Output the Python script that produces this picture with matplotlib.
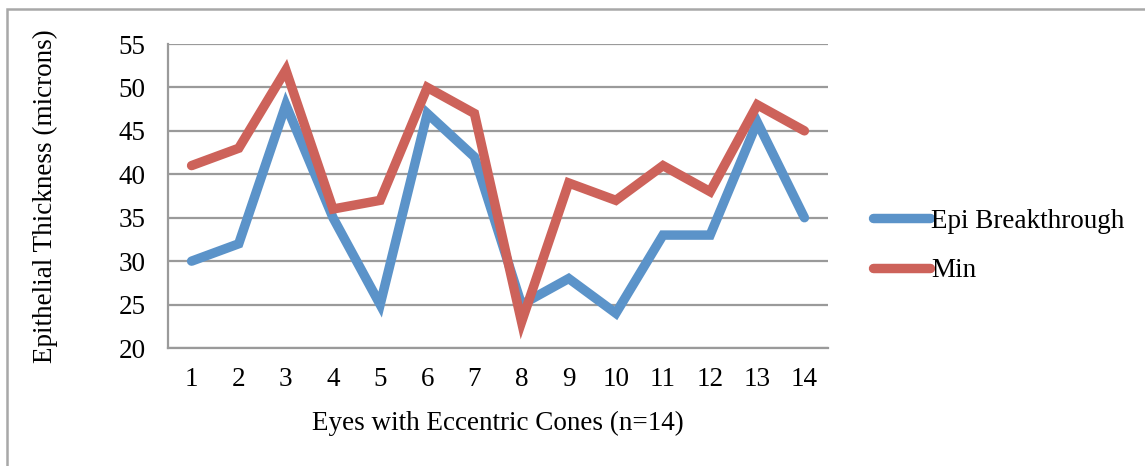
import matplotlib.pyplot as plt
from matplotlib.patches import Rectangle

# ---- DATA ----
eyes = list(range(1, 15))
epi_breakthrough = [30, 32, 48, 35, 25, 47, 42, 25, 28, 24, 33, 33, 46, 35]
min_thickness = [41, 43, 52, 36, 37, 50, 47, 23, 39, 37, 41, 38, 48, 45]
y_ticks = [20, 25, 30, 35, 40, 45, 50, 55]

BLUE = "#5b93c9"
RED = "#cd625a"
GRID = "#9a9a9a"
FS = 19.5

plt.rcParams["font.family"] = ["Liberation Serif", "DejaVu Serif"]

W, H = 1145, 466
fig = plt.figure(figsize=(W / 100, H / 100), dpi=100)
ax = fig.add_axes([168 / W, 1 - 348 / H, (828 - 168) / W, (348 - 44) / H])

ax.plot(eyes, epi_breakthrough, color=BLUE, lw=6.8, solid_capstyle="round",
        solid_joinstyle="miter", label="Epi Breakthrough", zorder=3)
ax.plot(eyes, min_thickness, color=RED, lw=6.8, solid_capstyle="round",
        solid_joinstyle="miter", label="Min", zorder=4)

ax.set_xlim(0.5, 14.5)
ax.set_ylim(20, 55)
ax.set_xticks(eyes)
ax.set_yticks(y_ticks)
ax.tick_params(axis="y", length=0, labelsize=FS, pad=16)
ax.tick_params(axis="x", length=0, labelsize=FS, pad=14)
ax.yaxis.grid(True, color=GRID, lw=1.6)
ax.set_axisbelow(True)

for side in ["top", "right"]:
    ax.spines[side].set_visible(False)
for side in ["left", "bottom"]:
    ax.spines[side].set_color(GRID)
    ax.spines[side].set_linewidth(1.6)

ax.set_xlabel("Eyes with Eccentric Cones (n=14)", fontsize=FS, labelpad=13)
ax.set_ylabel("Epithelial Thickness (microns)", fontsize=FS, labelpad=44)

leg = ax.legend(loc="center left", bbox_to_anchor=(1.0, 0.325), frameon=False,
                fontsize=FS, handlelength=2.1, handletextpad=0.05,
                labelspacing=0.9, borderaxespad=0, borderpad=0)
# nudge the legend so the handles start just right of the plot
leg.set_bbox_to_anchor((873 / W, 1 - 246 / H), transform=fig.transFigure)

# chart frame
fig.patches.append(Rectangle((7 / W, -0.1), 1.2, 1 - 9 / H + 0.1,
                             transform=fig.transFigure, fill=False,
                             edgecolor="#a8a8a8", lw=1.8))

fig.savefig("out.png", dpi=100)
